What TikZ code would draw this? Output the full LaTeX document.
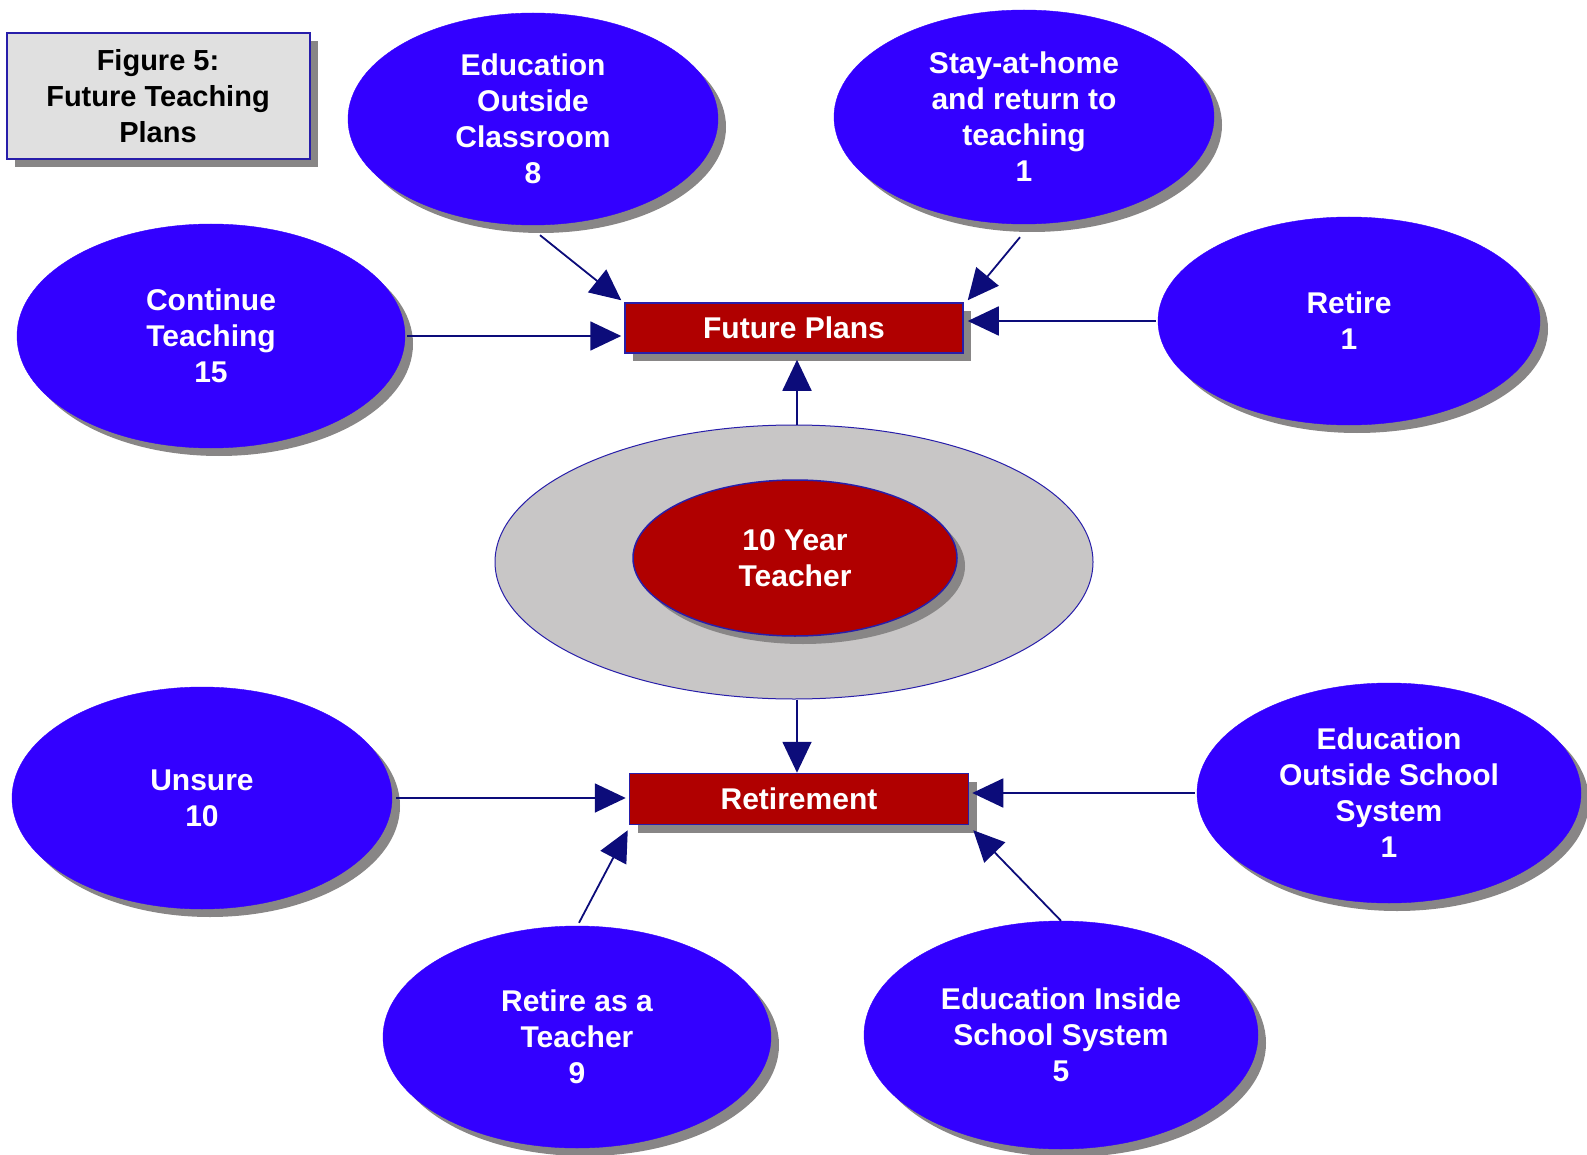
\documentclass[tikz,border=0pt]{standalone}
\usepackage{fontspec}
\setmainfont{Liberation Sans}
\usetikzlibrary{shapes.geometric,arrows.meta,shadows}
\definecolor{ovalblue}{RGB}{51,0,255}
\definecolor{boxred}{RGB}{176,0,0}
\definecolor{navy}{RGB}{12,12,122}
\definecolor{shadowgrey}{RGB}{136,134,134}
\definecolor{ringgrey}{RGB}{200,198,198}
\definecolor{titlegrey}{RGB}{224,224,224}
\definecolor{edgeblue}{RGB}{40,30,170}
\begin{document}
\begin{tikzpicture}[x=1pt,y=-1pt,
  txt/.style={font=\bfseries\fontsize{30}{36}\selectfont, align=center, text=white},
  shd/.style={drop shadow={shadow xshift=8pt, shadow yshift=-8pt, fill=shadowgrey, opacity=1}},
  oval/.style={ellipse, txt, fill=ovalblue, draw=ovalblue, inner sep=0pt, shd},
  redbox/.style={rectangle, txt, fill=boxred, draw=edgeblue, line width=1.5pt, inner sep=0pt, shd},
  conn/.style={draw=navy, line width=1.8pt, -{Triangle[length=31pt,width=29pt]}}
]
\useasboundingbox (0,0) rectangle (1587,1155);

% title box
\node[rectangle, fill=titlegrey, draw=edgeblue, line width=2pt, shd,
      minimum width=303pt, minimum height=126pt, inner sep=0pt,
      font=\bfseries\fontsize{29}{36}\selectfont, align=center, text=black]
      (title) at (158,96) {Figure 5:\\Future Teaching\\Plans};

% centre
\node[ellipse, fill=ringgrey, draw=edgeblue, line width=1pt, minimum width=598pt, minimum height=274pt, inner sep=0pt]
      (ring) at (794,562) {};
\node[ellipse, txt, fill=boxred, draw=edgeblue, line width=1.5pt, minimum width=324pt, minimum height=156pt, inner sep=0pt, shd]
      (teacher) at (795,558) {10 Year\\Teacher};

% boxes
\node[redbox, minimum width=338pt, minimum height=50pt] (fp) at (794,328) {Future Plans};
\node[redbox, minimum width=339pt, minimum height=51pt] (rt) at (799,799) {Retirement};

% top ovals
\node[oval, minimum width=370pt, minimum height=212pt] (eoc) at (533,119) {Education\\Outside\\Classroom\\8};
\node[oval, minimum width=380pt, minimum height=214pt] (sah) at (1024,117) {Stay-at-home\\and return to\\teaching\\1};
\node[oval, minimum width=388pt, minimum height=224pt] (ct) at (211,336) {Continue\\Teaching\\15};
\node[oval, minimum width=382pt, minimum height=208pt] (ret) at (1349,321) {Retire\\1};

% bottom ovals
\node[oval, minimum width=380pt, minimum height=222pt] (uns) at (202,798) {Unsure\\10};
\node[oval, minimum width=384pt, minimum height=220pt] (eoss) at (1389,793) {Education\\Outside School\\System\\1};
\node[oval, minimum width=388pt, minimum height=222pt] (rat) at (577,1037) {Retire as a\\Teacher\\9};
\node[oval, minimum width=394pt, minimum height=228pt] (eis) at (1061,1035) {Education Inside\\School System\\5};

% connectors to Future Plans
\coordinate (eocS) at ([shift={(7,10)}]eoc.south);
\coordinate (sahS) at ([shift={(-4,13)}]sah.south);
\draw[conn] (eocS) -- ([shift={(-3,-2)}]fp.north west);
\draw[conn] (sahS) -- ([shift={(4,-2)}]fp.north east);
\draw[conn] ([xshift=2pt]ct.east) -- ([xshift=-3pt]ct.east -| fp.west);
\draw[conn] ([xshift=-2pt]ret.west) -- ([xshift=4pt]ret.west -| fp.east);
\draw[conn] ([xshift=3pt]ring.north) -- ([shift={(3,6)}]ring.north |- fp.south);

% connectors to Retirement
\draw[conn] ([xshift=3pt]ring.south) -- ([xshift=3pt]ring.south |- rt.north);
\draw[conn] ([xshift=4pt]uns.east) -- ([xshift=-3pt]uns.east -| rt.west);
\draw[conn] ([xshift=-2pt]eoss.west) -- ([xshift=3pt]eoss.west -| rt.east);
\draw[conn] ([shift={(2,-3)}]rat.north) -- ([shift={(-1,5)}]rt.south west);
\draw[conn] (eis.north) -- ([shift={(4,5)}]rt.south east);
\end{tikzpicture}
\end{document}
